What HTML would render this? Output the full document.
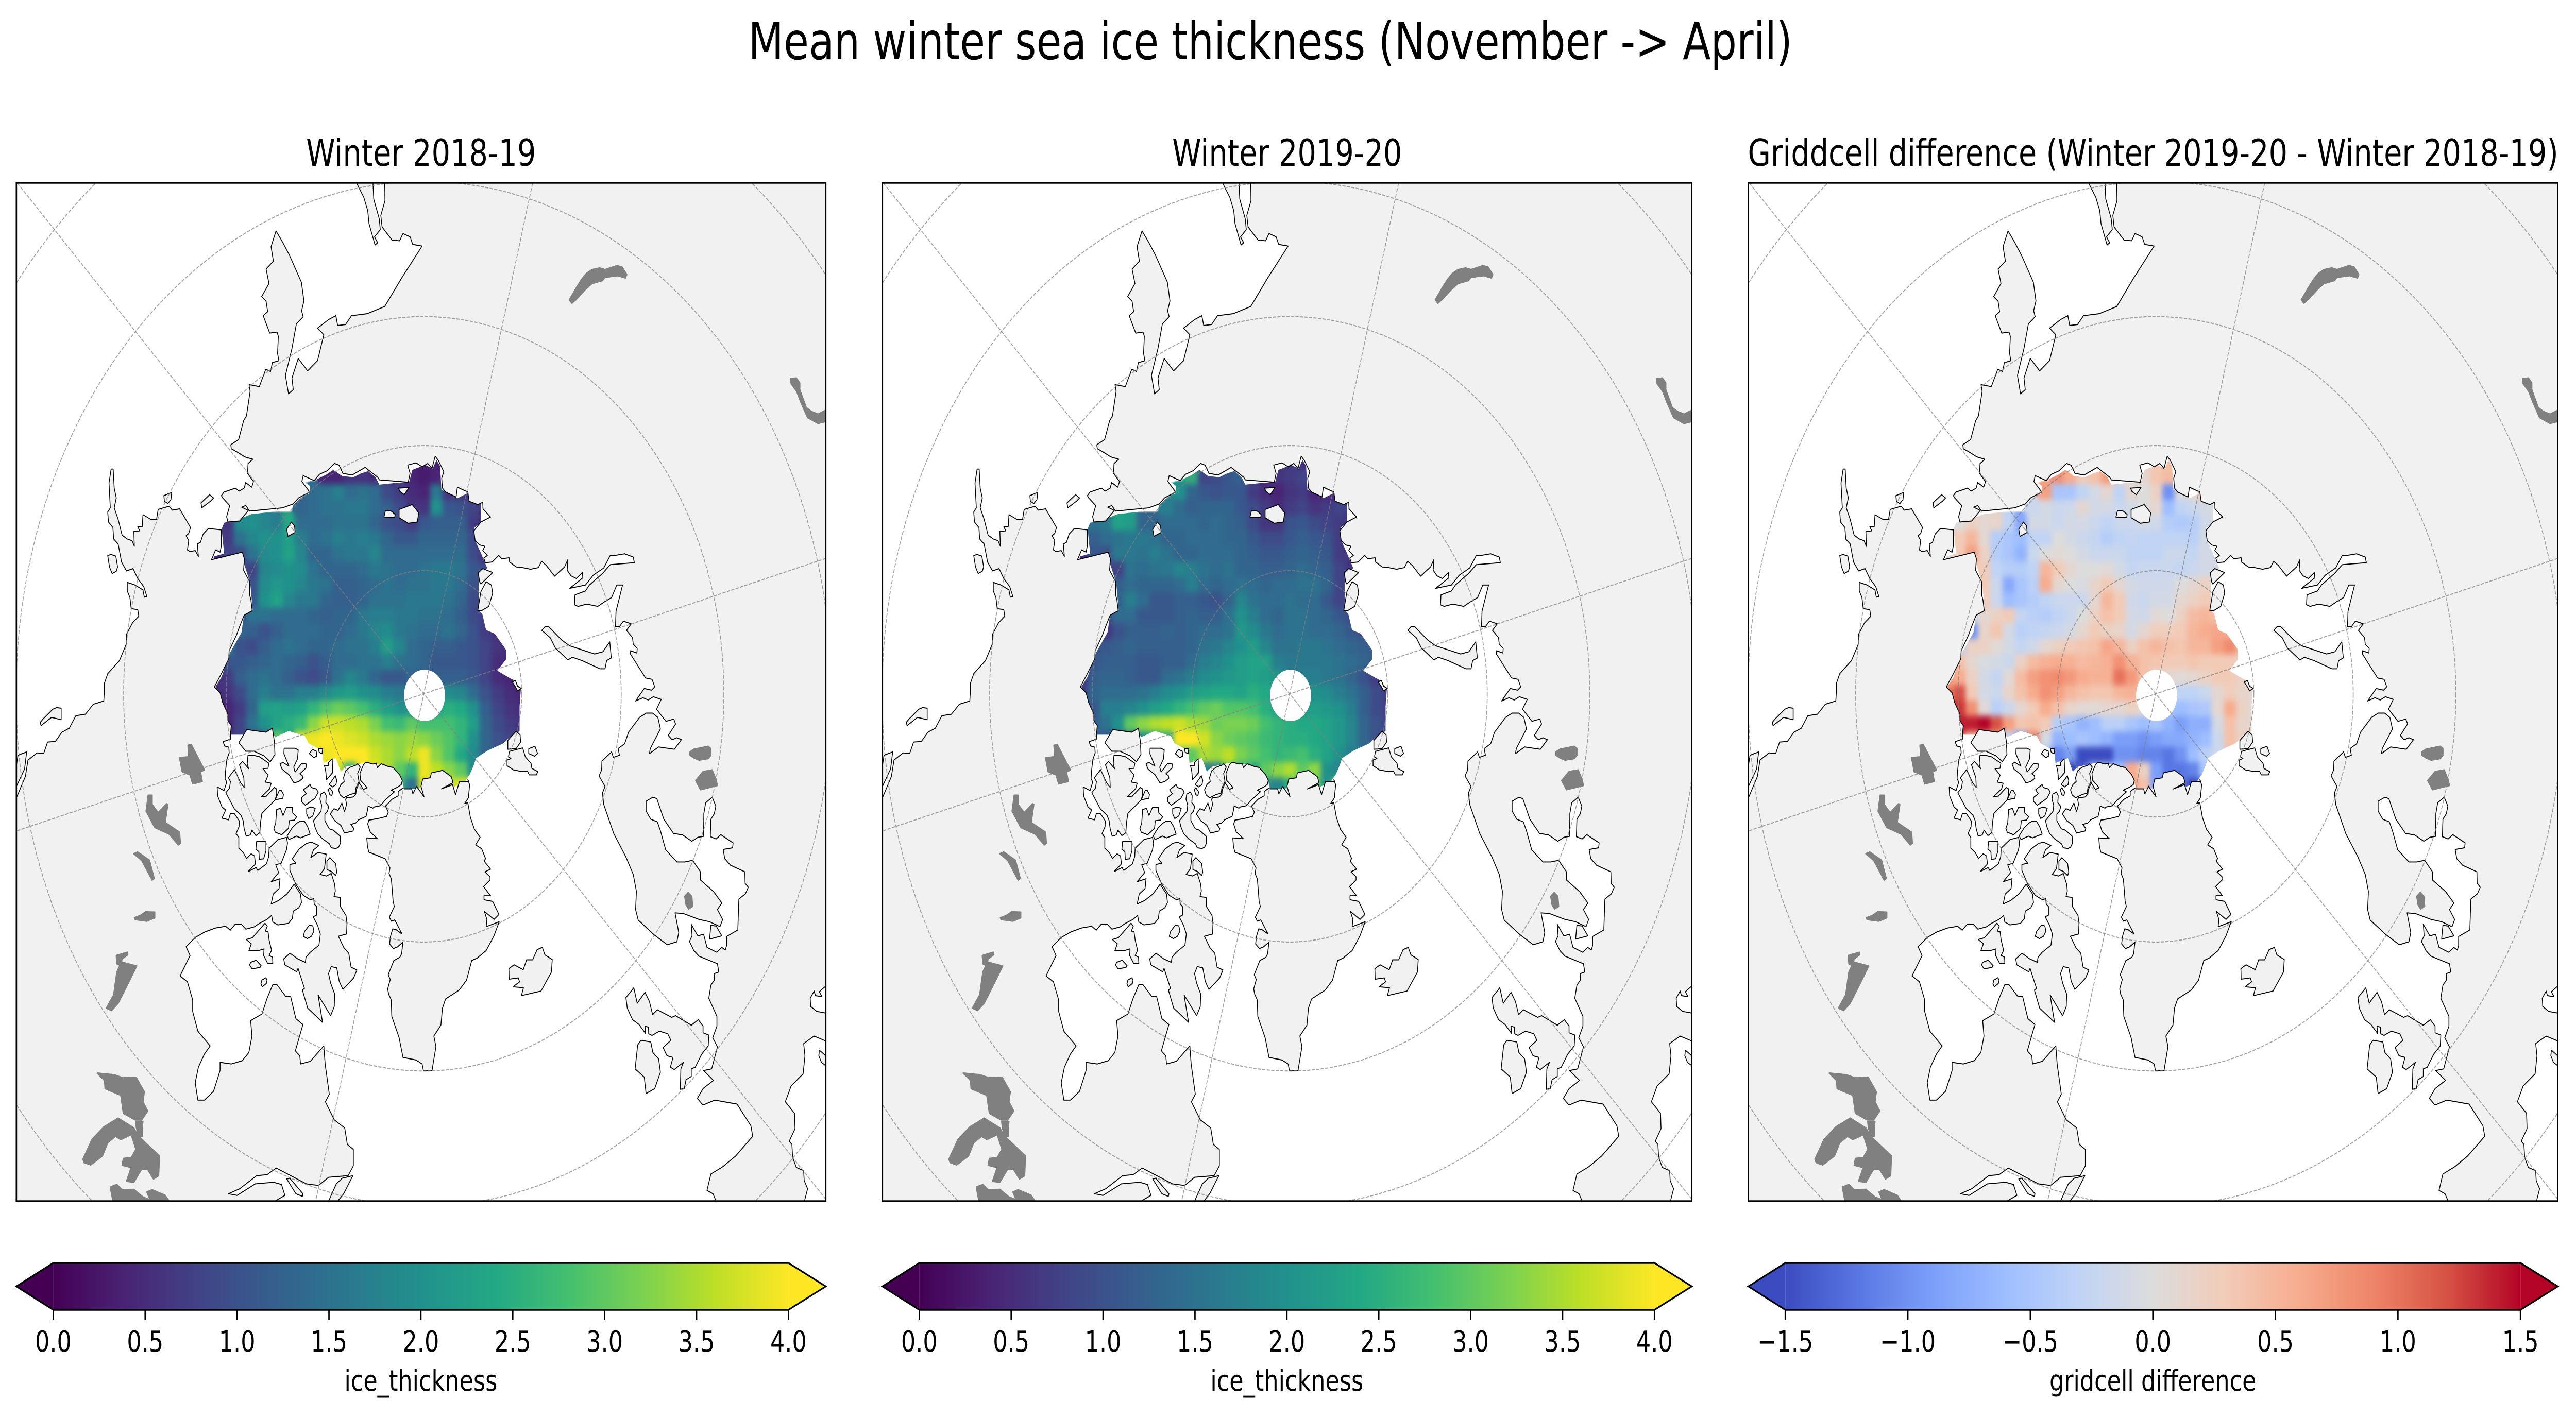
<!DOCTYPE html>
<html lang="en">
<head>
<meta charset="utf-8">
<title>Mean winter sea ice thickness</title>
<style>
html,body{margin:0;padding:0;background:#fff;width:100%;height:100%;overflow:hidden;}
svg{display:block;width:100vw;height:100vh;}
text{font-family:"DejaVu Sans","Liberation Sans",sans-serif;fill:#000;}
</style>
</head>
<body>
<svg id="figure" xmlns="http://www.w3.org/2000/svg" viewBox="0 0 6286 2753" preserveAspectRatio="none">
  <defs>
    <clipPath id="axes-clip"><rect x="40" y="355" width="1975" height="1977"/></clipPath>
    <clipPath id="ice-clip"><polygon id="ice-mask"/></clipPath>
    <filter id="soften" filterUnits="userSpaceOnUse" x="440" y="820" width="900" height="780" color-interpolation-filters="sRGB">
      <feGaussianBlur stdDeviation="6"/>
      <feComponentTransfer><feFuncA type="linear" slope="4"/></feComponentTransfer>
    </filter>
    <linearGradient id="viridis-gradient" x1="0" x2="1" y1="0" y2="0"></linearGradient>
    <linearGradient id="coolwarm-gradient" x1="0" x2="1" y1="0" y2="0"></linearGradient>
    <g id="basemap"></g>
  </defs>
  <text x="1826" y="115" font-size="100">Mean winter sea ice thickness (November -&gt; April)</text>
  <g id="panel-a">
    <text x="1027.5" y="322" font-size="72" text-anchor="middle">Winter 2018-19</text>
  </g>
  <g id="panel-b" transform="translate(2113.25,0)">
    <text x="1027.5" y="322" font-size="72" text-anchor="middle">Winter 2019-20</text>
  </g>
  <g id="panel-c" transform="translate(4226.5,0)">
    <text x="1027.5" y="322" font-size="72" text-anchor="middle">Griddcell difference (Winter 2019-20 - Winter 2018-19)</text>
  </g>
</svg>
<script>
const _ = null;

/* ---------- chart data ---------- */
const iceTicks = [0, 0.5, 1, 1.5, 2, 2.5, 3, 3.5, 4];
const diffTicks = [-1.5, -1, -0.5, 0, 0.5, 1, 1.5];
const iceDomain = [0, 4];
const diffDomain = [-1.5, 1.5];
const latitudeRings = [80, 70, 60, 50, 40];
const meridianAngles = [45, 105, 165];

const thickness201819 = [
[_,_,_,_,_,_,_,_,_,_,_,_,_,_,_,_,_,.3,.4],
[_,_,_,_,_,_,_,_,_,.4,.4,.6,.6,.5,.6,_,.4,.3,.4],
[_,_,_,_,_,_,_,_,1.4,1.5,1.7,1.4,1.5,1.4,.9,.7,.5,.4,1.6,.6,.6,.5,.5],
[_,_,_,_,_,_,_,1.3,1.4,1.5,1.5,1.6,1.6,1.4,1.2,.9,.6,.6,2,1.1,1,.8,.6],
[_,.6,1.9,2,1.8,1.7,2.4,1.4,1.4,1.4,1.5,1.5,1.5,1.3,1,.9,.7,1.1,1.2,1.2,1.2,.7,.5],
[_,.7,1.5,1.8,2,2,2.2,1.7,1.4,1.5,1.7,1.6,1.7,1.6,1.3,1.1,1.1,1.3,1.3,1.3,1.3,.9,.5],
[.4,.8,.9,1.5,1.9,2,2.3,1.8,1.3,1.3,1.5,1.6,1.6,1.8,1.4,1.4,1.4,1.4,1.4,1.4,1.4,.9,.5],
[_,_,.8,.8,1.8,1.9,2,1.9,1.5,1.3,1.3,1.3,1.4,1.6,1.5,1.4,1.4,1.5,1.6,1.6,1.5,1.1,.9],
[_,_,_,1,1.9,2.1,2,1.8,1.6,1.5,1.2,1.2,1.3,1.4,1.5,1.4,1.5,1.5,1.6,1.6,1.4,1,.8],
[_,_,_,1.1,2,2.3,1.8,1.6,1.6,1.3,1.2,1.2,1.3,1.5,1.5,1.5,1.6,1.6,1.6,1.5,1.3,.9,.7],
[_,_,1,1.5,1.5,1.4,1.4,1.4,1.3,1.2,1.3,1.3,1.6,1.7,1.7,1.6,1.6,1.5,1.5,1.4,1.2,.9,.7],
[_,_,1.3,1.2,1,1.2,1.4,1.4,1.4,1.3,1.3,1.4,1.6,1.8,1.9,1.6,1.5,1.4,1.4,1.5,1.3,1,.7,.5],
[_,1.6,1,.9,1.2,1.4,1.5,1.4,1.3,1.3,1.4,1.5,1.5,1.7,2.2,1.8,1.4,1.3,1.2,1.2,1.1,1,.8,.6,.5],
[_,1.1,1.1,1.2,1.3,1.4,1.3,1.2,1,1.2,1.4,1.4,1.5,1.5,1.7,1.5,1.4,1.3,1.1,1.1,1.1,1,.8,.5,.5],
[.5,.7,1.2,1.4,1.5,1.4,1.2,1,.9,1.1,1.5,1.8,1.6,1.3,1.1,1.1,1.3,1.2,1.2,1.2,1.2,1.1,.8,.5,.4,.4],
[.5,.6,.9,1.4,1.7,1.5,1.5,1.7,1.7,1.9,2.1,2.2,2,1.9,1.7,1.6,1.6,1.8,1.8,1.9,1.8,1.4,1,.7,.5,.4],
[.4,.4,.7,1.3,2.2,2.3,2.2,2.3,2.6,2.9,3.1,3,2.8,2.5,2.2,2,2,2.2,2.3,2.5,2.4,2,1.2,.8,.6,.5],
[_,.4,.8,1.5,2,2.3,2.5,2.7,3.3,3.7,3.7,3.6,3.5,3.2,2.8,2.7,3,2.8,2.8,2.8,2.6,2.2,1.3,.9,.7,.6],
[_,_,.8,.9,.9,3,2.5,3.8,3.9,4,3.9,3.8,3.7,3.5,3.4,3.3,3.4,3.3,3.1,2.9,2.6,2,1.3,1,.8],
[_,_,_,_,_,_,_,_,3.9,3.9,4,4,4,3.7,3.5,3.3,3.6,3.9,3.3,2.9,2.4,1.9,1.3],
[_,_,_,_,_,_,_,_,_,_,3.7,2.5,3.9,3.9,3.5,3,2.6,3.9,3.6,3.3,3,1.9],
[_,_,_,_,_,_,_,_,_,_,_,_,_,_,_,2.5,1.5,3.8,3.8,3.6,3.8,3.9]
];

const thickness201920 = [
[_,_,_,_,_,_,_,_,_,_,_,_,_,_,_,_,_,.7,.5],
[_,_,_,_,_,_,_,_,_,2.5,.8,.9,1.1,1.2,.9,_,.6,.7,.8],
[_,_,_,_,_,_,_,_,2,1.3,1.1,1,1.1,1.1,.7,.5,.4,.6,.7,.4,.4,.5,.5],
[_,_,_,_,_,_,_,1.7,1.4,1.2,1.3,1.3,1.3,1.1,.9,.7,.5,.7,.8,.6,.7,.8,.7],
[_,1.5,1.6,2.3,2.2,1.3,1.3,1.4,1.4,1.4,1.3,1.4,1.3,1.2,.9,.6,.6,1,1.1,.9,.8,.7,.6],
[_,1.2,1.4,1.5,1.6,1.6,1.5,1.3,1.3,1.4,1.4,1.4,1.3,1.3,1.1,.9,.9,1.1,1.2,1.1,1,.7,.6],
[.4,1.1,1,1.6,1.6,1.5,1.7,1.5,1.3,1.3,1.4,1.4,1.4,1.3,1.2,1.1,1.1,1.2,1.3,1.2,1.1,.7,.6],
[_,_,.8,.8,1.5,1.4,1.5,1.6,1.8,1.7,1.5,1.4,1.5,1.3,1.3,1.2,1.2,1.3,1.4,1.3,1.2,.8,.6],
[_,_,_,1.2,1.4,1.3,1.3,1.3,1.4,1.7,1.4,1.3,1.4,1.5,1.4,1.3,1.4,1.4,1.5,1.5,1.3,.8,.7],
[_,_,_,1.3,1.7,1.4,1.1,1.1,1.2,1.2,1.1,1,1.3,1.8,1.5,1.4,1.4,1.5,1.4,1.4,1.1,.8,.8],
[_,_,.9,1.4,1.4,1.1,1.1,1.1,1.2,1.3,1.2,1.2,1.5,2,1.7,1.4,1.3,1.5,1.5,1.4,1.3,1.1,.9],
[_,_,.6,1,1.2,1.2,1.2,1.3,1.2,1.3,1.4,1.4,1.5,2.1,1.9,1.6,1.4,1.5,1.5,1.4,1.4,1.3,1.1,1],
[_,1,1.1,1.2,1.3,1.2,1.2,1.2,1.2,1.3,1.5,1.6,1.8,2,2.2,1.8,1.5,1.5,1.6,1.6,1.5,1.4,1.3,1.2,1],
[_,1.1,1.2,1.2,1.2,1.1,1.1,1.2,1.2,1.4,1.7,1.8,2,2.2,2.3,2.3,1.7,1.6,1.6,1.6,1.6,1.5,1.4,1.3,1.1],
[.6,1.2,1.3,1.3,1.2,1.1,1.1,1.4,1.5,1.7,1.9,2,2.1,2.2,2.3,2.2,2.1,1.7,1.7,1.7,1.6,1.5,1.3,1,.7,.6],
[.7,1.3,1.4,1.4,1.4,1.5,1.7,1.9,2,2.2,2.3,2.4,2.4,2.3,2.5,2.4,2.2,1.9,2,2,1.9,1.7,1.5,1.2,.9,.7],
[.9,1.1,1.7,1.7,1.8,2,2.2,2.4,2.6,2.8,3,3.1,2.9,2.9,2.8,2.5,2.3,2.2,2.2,2.2,2.1,2,1.7,1.2,.9,.7],
[_,1.2,1.5,2,3,3.3,3.5,3.6,3.7,3.5,3.4,3.1,3.2,3.2,3.1,2.8,2.6,2.5,2.4,2.4,2.3,2.1,1.8,1.3,1,.8],
[_,_,1.1,1.3,1.5,2,2.3,2.5,4,4,3.7,3.3,3.1,3,2.9,2.7,2.6,2.5,2.5,2.4,2.3,2.1,1.8,1.3,1],
[_,_,_,_,_,_,_,_,3,3,3.5,3.4,3.6,3.2,3,2.8,2.6,2.7,2.8,2.5,2.3,2,1.7],
[_,_,_,_,_,_,_,_,_,_,1.8,1.7,3,2.6,2.4,3,3.3,3.5,3,3.3,2,1.8],
[_,_,_,_,_,_,_,_,_,_,_,_,_,_,_,2,1.8,2.5,3,3,2,3.5]
];

const griddifference = [
[_,_,_,_,_,_,_,_,_,_,_,_,_,_,_,_,_,.3,.4],
[_,_,_,_,_,_,_,_,_,.8,.6,.3,.4,.7,.3,_,.1,.35,.45],
[_,_,_,_,_,_,_,_,.7,-.5,-.5,-.3,-.1,.1,-.3,.1,0,.2,-1,0,.15,.35,.3],
[_,_,_,_,_,_,_,-.2,-.1,-.2,-.15,.1,-.1,-.1,-.2,-.1,0,.1,-.6,-.3,-.2,-.1,0],
[_,0,.2,.1,.15,-.3,-.8,-.1,-.1,-.2,-.1,-.1,-.2,-.3,-.2,-.2,-.1,-.15,-.4,-.45,-.4,-.15,0],
[_,.3,.5,.1,-.4,-.5,-.6,-.3,-.3,0,-.1,-.2,-.25,-.4,-.3,-.25,-.3,-.3,-.3,-.3,-.35,-.1,0],
[0,.3,.7,.2,-.4,-.5,-.7,-.2,0,.05,0,-.1,-.2,-.2,-.2,-.3,-.3,-.3,-.2,-.2,-.25,-.1,-.1],
[_,_,.3,.3,-.3,-.4,-.4,-.3,.5,.3,.1,0,0,.05,-.1,-.25,-.2,-.2,-.2,-.25,-.2,-.1,-.1],
[_,_,_,.3,-.2,-.8,-.5,-.35,.6,.1,0,-.05,.15,.3,.1,-.1,-.15,-.15,-.15,0,.1,.2,.1],
[_,_,_,.3,-.2,-.6,-.5,-.4,-.3,-.2,-.2,-.2,.1,.5,.3,-.15,-.2,-.1,-.1,.1,.2,.3,.2],
[_,_,-.1,.1,.2,.3,-.25,-.35,-.4,-.3,-.2,0,.2,.4,.3,-.1,-.15,.05,0,.2,.45,.5,.4],
[_,_,-1,.15,.35,-.1,-.35,-.3,-.25,-.2,-.1,.1,.3,.2,.15,-.1,.1,.25,.25,.3,.5,.6,.65,.6],
[_,-.4,.2,.2,.05,-.1,-.25,-.15,.1,.2,.3,.35,.4,.65,.5,.2,.4,.5,.4,.35,.5,.5,.7,.85,.5],
[_,.4,.1,-.05,-.1,-.2,.2,.45,.55,.6,.55,.45,.5,.55,.8,.55,.4,.35,.3,.3,.35,.3,.3,.3,.2],
[.7,.6,.2,-.1,-.25,.05,.45,.7,.8,.85,.75,.6,.55,.55,1,.75,.4,.1,.1,.05,.1,.2,.3,.3,.2,.1],
[.9,1.2,.3,-.1,-.2,.15,.4,.6,.8,.7,.5,.4,.35,.35,.5,.55,.3,0,-.1,-.3,-.3,-.2,.1,.25,.15,.1],
[1.2,1.3,.8,.05,-.35,-.2,.1,.3,.6,.4,.15,.05,.05,.1,.1,.2,.05,-.2,-.5,-.6,-.5,-.45,.1,.6,.2,.05],
[_,1.4,1.4,1.5,1.2,.7,.35,.4,.3,-.4,-.5,-.7,-.6,-.35,-.35,-.5,-.6,-.5,-.7,-.9,-.75,-.75,-.1,.4,.15,.1],
[_,_,.5,.5,.6,-.3,-.9,.9,-.1,-.7,-.6,-.5,-.6,-.7,-.9,-.9,-1,-.9,-.8,-.8,-.7,-.6,-.2,.4,.2],
[_,_,_,_,_,_,_,_,-.5,-1.1,-.9,-1.5,-1.5,-1.5,-1,-1,-1.1,-1.1,-1.2,-1,-.6,-.35,-.2],
[_,_,_,_,_,_,_,_,_,_,-1.5,-1.4,-.6,-.5,-.6,.6,.2,-.9,-1.2,-1.2,-1.1,-.5],
[_,_,_,_,_,_,_,_,_,_,_,_,_,_,_,.7,.4,-.9,-1,-1.2,-1.5,-1.3]
];

/* ---------- colour maps ---------- */
const viridisStops = ['#440154','#482475','#414487','#355f8d','#2a788e','#21918c','#22a884','#44bf70','#7ad151','#bddf26','#fde725'];
const coolwarmStops = ['#3b4cc0','#5977e3','#7b9ff9','#9ebeff','#c0d4f5','#dddcdc','#f2cbb7','#f7ac8e','#ee8468','#d65244','#b40426'];

/* ---------- map projection ---------- */
const SVGNS = 'http://www.w3.org/2000/svg';
const poleX = 1034;
const poleY = 1347;
const polarScale = 2733;
const gridX0 = 510;
const gridY0 = 880;
const cellSize = 30;
const axLeft = 40, axRight = 2015, axTop = 355, axBottom = 2332;
function xCell(col) { return gridX0 + col * cellSize; }
function yCell(row) { return gridY0 + row * cellSize; }
function ringRadius(lat) { return polarScale * Math.tan((90 - lat) / 2 * Math.PI / 180); }
function inAxes(x, y) { return x >= axLeft && x <= axRight && y >= axTop && y <= axBottom; }

/* visible part of a latitude ring, as path data limited to the axes */
function ringPath(radius) {
  let d = '';
  let pen = false;
  for (let t = 0; t <= 1440; t++) {
    const a = t / 4 * Math.PI / 180;
    const x = poleX + radius * Math.cos(a);
    const y = poleY + radius * Math.sin(a);
    if (inAxes(x, y)) {
      d += (pen ? 'L' : 'M') + x.toFixed(1) + ' ' + y.toFixed(1);
      pen = true;
    } else {
      pen = false;
    }
  }
  return d;
}
/* distance from the pole to the axes edge along a direction */
function reach(dx, dy) {
  let s = Infinity;
  if (dx > 0) s = Math.min(s, (axRight - poleX) / dx);
  if (dx < 0) s = Math.min(s, (axLeft - poleX) / dx);
  if (dy > 0) s = Math.min(s, (axBottom - poleY) / dy);
  if (dy < 0) s = Math.min(s, (axTop - poleY) / dy);
  return s;
}

/* ---------- trace frames for basemap outlines ---------- */
const frames = {
  A: [30, 345, 1000 / 1568, 1000 / 1568],
  B: [1030, 345, 1000 / 1568, 1000 / 1568],
  C: [30, 1345, 1000 / 1568, 1000 / 1568],
  D: [1030, 1345, 1000 / 1568, 1000 / 1568],
  E: [500, 1430, 1 / 3, 1 / 3],
  F: [450, 850, 950 / 1568, 750 / 1568]
};
function outline(segs) {
  const out = [];
  segs.forEach(function (seg) {
    const f = frames[seg[0]];
    seg[1].trim().split(/\s+/).forEach(function (p) {
      const xy = p.split(',');
      const px = Math.min(axRight, Math.max(axLeft, f[0] + xy[0] * f[2]));
      const py = Math.min(axBottom, Math.max(axTop, f[1] + xy[1] * f[3]));
      out.push(px.toFixed(1) + ',' + py.toFixed(1));
    });
  });
  return out.join(' ');
}

const iceOutline = [['F','118,500 118,482 160,470 150,370 160,345 240,322 270,310 355,300 430,297 440,270 480,235 505,225 505,195 485,180 530,170 570,150 600,130 635,155 680,160 710,145 740,135 770,160 785,190 860,182 905,180 918,130 970,110 1000,125 1015,90 1030,115 1035,210 1100,245 1140,225 1195,270 1195,345 1168,365 1175,425 1195,470 1220,530 1185,540 1185,700 1200,715 1215,780 1250,795 1295,860 1295,900 1260,945 1310,975 1330,985 1355,1020 1350,1090 1350,1190 1305,1220 1285,1240 1220,1270 1175,1300 1165,1330 1150,1365 1130,1395 1090,1415 1040,1420 885,1425 875,1385 845,1350 800,1325 720,1320 650,1335 630,1355 610,1300 560,1320 555,1270 500,1240 485,1210 420,1190 365,1215 350,1185 330,1195 250,1185 240,1205 185,1205 185,1170 160,1110 125,1010 150,970 170,910 185,870 230,790 240,720 275,700 265,590 240,510 235,470 215,470 160,490']];

const landShapes = [
 /* north america mainland */
 [['A','352,1568 352,1540 365,1510 410,1470 436,1420 437,1390 460,1355 484,1335 480,1315 455,1312 450,1278 440,1258 440,1232 470,1240 500,1255 505,1277 515,1275 503,1245 480,1220 462,1190 437,1197 418,1170 405,1115 388,1100 385,1065 368,1048 365,1018 375,1005 370,930 378,887 386,887 390,945 398,975 390,1005 405,1040 420,1088 440,1100 458,1105 467,1122 465,1077 488,1075 480,1063 497,1063 500,1026 530,1040 552,1040 558,1010 600,1000 612,1012 640,1008 660,1035 682,1065 675,1083 665,1090 675,1105 670,1133 680,1138 700,1135 712,1153 708,1115 720,1110 730,1085 750,1068 800,1072 800,1120 795,1140 778,1133 762,1163 880,1140 888,1160 885,1195 908,1230 908,1270 913,1285 918,1318 887,1332 868,1370 858,1392 830,1440 828,1465 800,1510 773,1550 795,1568'],
  ['C','805,30 825,65 825,85 838,100 835,125'],
  ['E','187,15 133,30 145,55 175,62 178,95 160,135 150,210 148,245 160,265 140,315 90,293 93,345 125,410 152,428 125,475 173,485 187,447 217,450 252,492 250,525 228,565 248,587 248,650 280,675 305,710 338,683 363,695 370,742 316,787 375,763 387,780 450,742 467,700 470,650 535,600 597,587 605,620 597,660 558,738 518,747 540,792 485,845 550,828 543,885 500,917 485,975 540,955 600,917 653,860 700,917 707,967 688,997 647,1017 640,1060 612,1088 535,1097 497,1080 488,1042 455,1065 395,1090 363,1108 300,1122 265,1092 220,1095 185,1128 152,1105 78,1115 0,1138'],
  ['C','700,745 665,773 680,800 642,862 670,880 690,935 690,970 710,1030 757,1075 735,1100 712,1140 700,1187 710,1240 735,1240 770,1213 795,1150 795,1125 838,1130 880,1120 905,1095 917,1045 912,998 955,978 975,930 997,888 1012,888 1047,925 1065,925 1085,992 1112,1010 1083,1090 1100,1105 1103,1130 1140,1122 1192,1075 1197,1130 1213,1222 1198,1245 1232,1300 1272,1325 1282,1375 1305,1390 1305,1440 1285,1470 1210,1475 1172,1500 1125,1495 1010,1447 975,1467 935,1470 870,1510 827,1525 860,1530 930,1495 1000,1490 1030,1497 1043,1530 1005,1548 15,1548 15,320 50,255 60,205 95,183 120,185 135,150 165,148 190,120 218,108 243,70 280,65 310,35 350,25']],
 /* eurasia */
 [['A','1425,15 1426,70 1410,115 1415,150 1453,190 1482,192 1495,170 1522,180 1532,203 1568,208 1490,305 1425,392 1358,414 1298,420 1275,447 1245,450 1238,420 1210,432 1168,458 1192,478 1168,557 1130,588 1094,550 1070,610 1075,645 1057,658 1045,602 1070,520 1087,445 1113,423 1107,405 1116,375 1106,318 1060,235 1030,190 1009,162 990,210 999,254 971,278 982,322 954,362 971,376 977,408 960,420 985,473 1013,470 1018,483 1015,535 1020,557 995,563 988,590 970,583 945,636 906,630 910,650 896,725 885,740 866,797 836,813 838,825 860,835 890,850 920,857 902,870 900,900 923,925 916,942 893,928 887,945 868,954 854,945 810,957 800,968 805,975 832,998 820,1032 825,1048 870,1045 903,1013 878,1003 893,998 908,1015 1035,1005 1075,993 1095,975 1138,957 1108,925 1113,907 1155,922 1175,903 1205,892 1233,870 1250,875 1265,900 1300,905 1350,882 1398,912 1405,920 1515,927 1522,900 1513,875 1545,868'],
  ['B','0,880 22,870 38,885 50,848 62,860 83,895 75,915 78,945 90,957 130,972 135,942 175,957 180,985 213,995 232,988 233,1008 262,1033 225,1048 198,1075 203,1105 220,1118 240,1122 232,1135 250,1150 236,1158 242,1172 268,1170 293,1150 305,1160 333,1157 335,1170 360,1185 385,1187 415,1192 445,1187 457,1168 475,1180 507,1213 545,1185 558,1162 555,1195 570,1212 590,1220 613,1202 615,1218 565,1250 625,1240 655,1210 695,1188 720,1150 737,1150 775,1145 808,1155 812,1172 720,1178 690,1205 640,1240 625,1258 585,1270 583,1300 597,1305 630,1298 672,1305 700,1290 725,1278 745,1240 767,1240 742,1320 740,1367 755,1367 770,1350 800,1358 782,1378 805,1400 808,1420 823,1433 822,1447 798,1440 797,1450 855,1523 880,1527 890,1550 878,1560 850,1555'],
  ['D','817,25 845,15 865,22 885,12 915,20 897,50 933,87 963,80 970,95 942,130 957,143 975,137 992,143 965,172 905,165 870,185 873,170 912,110 902,75 882,62 857,62 832,75 790,120 775,155 750,170 755,190 732,197 725,180 688,208 687,235 677,253 700,285 690,305 695,340 733,428 780,500 808,553 820,605 817,660 827,692 888,737 938,767 975,758 982,730 968,670 1000,672 1060,690 1100,697 1140,712 1150,690 1130,660 1147,640 1115,605 1065,570 1065,545 1035,510 1005,515 975,515 932,478 912,420 900,393 875,385 857,360 857,330 883,318 898,322 925,385 962,428 997,433 1032,452 1055,440 1077,437 1078,368 1085,335 1110,318 1124,345 1118,368 1105,385 1103,438 1125,445 1143,432 1190,457 1188,472 1152,477 1158,505 1180,525 1235,545 1236,580 1248,592 1237,612 1212,628 1208,722 1165,742 1165,770 1160,783 1147,775 1127,790 1090,775 1077,735 1055,740 1030,705 1033,740 1023,757 1040,785 1060,802 1130,825 1135,850 1118,855 1118,875 1105,890 1097,930 1128,985 1128,1015 1112,1050 1130,1078 1108,1145 1077,1150 1115,1180 1075,1205 1053,1235 1075,1255 1120,1240 1205,1252 1258,1318 1265,1350 1200,1410 1150,1443 1105,1465 1090,1515 1113,1525 1125,1548 1548,1548'],
  ['B','1548,15']],
 /* peninsula at the top edge */
 [['A','1317,15 1345,60 1360,100 1365,140 1388,205 1398,198 1386,180 1408,158 1404,125 1383,65 1380,15']],
 /* greenland */
 [['E','1450,300 1415,320 1415,345 1370,365 1322,405 1343,440 1330,465 1270,477 1200,487 1192,510 1210,555 1262,595 1185,590 1190,640 1200,673 1320,712 1355,765 1348,797 1365,830 1378,960 1387,990 1350,1052 1365,1075 1390,1068 1443,1150 1400,1125 1375,1120 1358,1165 1352,1208 1380,1235 1410,1225 1450,1197 1440,1265 1428,1285 1383,1305 1342,1387 1357,1415 1338,1470 1345,1500'],
  ['C','1450,935 1452,985 1480,1050 1495,1110 1545,1118'],
  ['D','0,1130 5,1150 38,1150 53,1077 45,1045 72,1012 78,960 90,932 142,905 170,875 190,815 210,808 245,785 275,740 295,697 245,712 248,690 238,665 275,690 294,675 270,635 237,630 237,618 262,618 235,590 260,570 260,560 240,545 262,537 237,512 243,505 228,475 205,463 222,440 200,415 185,380 175,335 163,337 177,320 182,280 175,265'],
  ['F','1145,1395 1108,1395 1092,1448 1080,1408 1035,1425 1082,1400 1075,1375 1040,1350 995,1360 990,1380 960,1385 953,1415 965,1457 935,1415 920,1445 915,1425 885,1425']],
 /* baffin */
 [['E','835,635 795,660 775,705 828,675 888,685 875,770 843,803 890,812 925,797 950,860 955,900 945,932 990,937 992,990 1033,1042 1040,1090 1037,1150 977,1163 1018,1230 1053,1262 1070,1343 1113,1360 1088,1407 1010,1473 983,1425 965,1347 925,1340 905,1380 920,1435 950,1500'],
  ['C','1232,955 1218,983 1170,920 1187,1003 1130,960 1110,905 1118,900'],
  ['E','682,1350 672,1370 585,1330 577,1295 623,1262 680,1295 735,1315 740,1285 770,1257 835,1215 845,1150 825,1100 793,1050 817,1040 817,990 800,975 797,943 775,952 720,925 665,860 622,780 622,745 665,738 640,712 690,655 745,622 780,615']],
 /* arctic archipelago */
 [['C','867,152 897,112 970,120 995,108 1003,150 1005,188 987,210 963,192 925,178 893,178']],
 [['E','315,110 310,160 320,187 275,145 253,165 285,240 288,297 262,270 217,193 172,240 187,262 180,300 153,327 215,420 265,460 280,490 287,535 302,580 332,573 345,545 373,577 402,560 407,500 417,448 515,368 525,335 525,305 508,297 450,347 415,350 473,305 485,272 442,265 463,225 425,187 462,185 468,155 400,118 360,110']],
 [['E','515,368 545,313 560,315 575,337 570,360']],
 [['E','580,68 660,68 683,78 678,130 650,178 660,207 708,157 742,160 740,183 695,217 713,227 717,243 688,262 652,270 615,222 565,190 550,160 570,150 615,172 578,100']],
 [['E','765,100 787,75 815,85 820,113 797,123']],
 [['E','830,70 862,72 858,100 837,92']],
 [['E','875,168 905,168 905,150 932,130 935,210 890,252 885,205']],
 [['E','910,280 955,228 965,255 960,280 935,293']],
 [['E','903,310 915,298 935,323 930,342 915,340']],
 [['E','1020,262 1015,240 1030,200 1060,180 1110,165 1118,158 1137,178 1118,215 1128,262 1105,300 1100,330 1065,337 1015,357 990,340 978,310 995,280']],
 [['E','1140,255 1135,215 1160,165 1175,152 1195,152 1230,160 1255,155 1262,180 1290,158 1345,175 1378,180 1425,222 1445,255 1438,280 1410,295 1365,312 1387,322 1320,370 1285,403 1240,410 1230,417 1195,405 1190,430 1180,465 1125,485 1105,503 1068,512 1090,535 1085,550 1022,562 995,517 950,490 918,450 945,420 975,430 1003,387 1022,438 1037,395 1030,365 1037,357 1085,352 1105,335 1108,310 1130,270 1160,308 1188,298']],
 [['E','525,425 553,418 572,460 597,413 640,413 643,445 672,467 655,487 618,490 612,535 562,572 515,557 505,535 518,505']],
 [['E','602,578 640,530 675,503 700,492 730,495 752,525 770,568 700,590 670,580 615,600']],
 [['E','745,420 777,410 808,418 790,462 760,478 745,450']],
 [['E','722,310 770,280 780,297 815,305 830,323 805,360 735,400 707,378 707,355 742,333']],
 [['E','795,490 850,435 855,400 842,365 848,335 875,323 888,345 885,385 907,407 897,435 878,452 878,490 910,537 940,545 990,580 993,620 978,645 960,652 925,648 912,625 860,595 825,565 805,525']],
 [['E','378,612 447,612 447,665 430,712 398,715 395,670 373,657']],
 [['E','915,705 957,740 965,790 957,810 925,785 893,775 893,725']],
 [['E','720,1163 730,1135 765,1098 790,1103 798,1133 780,1163 750,1177']],
 [['E','303,1182 347,1172 440,1087 457,1105 442,1133 462,1135 470,1185 488,1245 470,1275 495,1285 497,1320 460,1322 430,1275 433,1237 385,1248 322,1247 340,1207']],
 [['E','327,1330 335,1315 375,1303 412,1335 403,1345 345,1353']],
 [['E','410,1440 417,1418 447,1405 455,1420 450,1438 420,1458']],
 /* pacific and bering islands */
 [['A','580,968 610,958 607,980 595,992 582,985']],
 [['A','722,990 755,965 770,975 758,985 725,1005']],
 [['A','365,1150 378,1147 396,1152 403,1185 398,1198 382,1205 372,1185']],
 [['C','107,90 120,78 155,50 170,45 187,47 187,82 150,75 110,100']],
 [['C','15,222 22,190 55,180 47,232 15,285']],
 /* siberian arctic islands */
 [['A','1050,1070 1068,1048 1080,1060 1082,1080 1055,1092']],
 [['A','1478,945 1518,943 1500,965 1483,955']],
 [['A','1422,1033 1428,1013 1450,1015 1465,1025 1463,1035']],
 [['A','1480,1010 1530,995 1555,1020 1550,1048 1515,1052 1480,1035']],
 [['B','215,1203 232,1190 270,1202 225,1237 220,1230']],
 [['B','213,1318 225,1260 245,1230 265,1240 270,1265 255,1305 230,1317']],
 [['B','458,1378 470,1367 485,1367 535,1408 565,1425 660,1450 692,1443 718,1413 724,1462 706,1470 700,1495 680,1495 612,1470 575,1460 558,1468 510,1432 490,1400']],
 [['B','345,1535 357,1530 365,1548 380,1555 365,1562 357,1550']],
 /* svalbard */
 [['D','335,178 385,168 395,195 417,215 420,230 443,240 437,250 410,250 403,238 385,240 350,235 325,222 325,205 340,200 330,195']],
 [['D','328,145 345,130 360,117 375,128 377,150 360,170 328,172']],
 [['D','408,170 432,163 442,185 430,193 408,185']],
 /* iceland, ireland, britain */
 [['D','332,840 352,828 387,843 400,813 423,813 440,782 460,775 470,798 498,812 495,850 455,908 380,922 388,898 348,895 373,880 368,868 333,872']],
 [['D','780,928 810,898 823,945 853,912 870,940 882,980 900,965 955,988 970,983 1030,1012 1057,995 1075,1015 1075,1035 1097,1042 1095,1075 1070,1100 1045,1140 1030,1145 1030,1168 1010,1178 1003,1205 988,1207 990,1145 1000,1125 965,1147 950,1140 960,1110 937,1105 922,1080 952,1058 940,1038 908,1030 880,1043 867,1038 866,1018 853,1015 855,1037 830,1010 805,995 785,960']],
 [['D','825,1072 838,1058 875,1063 883,1095 905,1115 912,1155 890,1205 857,1220 850,1170 815,1145']],
 [['D','1105,708 1125,710 1147,740 1100,750']],
 /* newfoundland area */
 [['C','1050,1480 1062,1478 1112,1525 1110,1533 1085,1525']],
 [['C','1210,1548 1240,1495 1262,1478 1303,1470 1268,1525 1245,1548']]
];

const seaShapes = [
 [['D','1548,1060 1500,1045 1460,1068 1465,1105 1458,1160 1412,1197 1390,1245 1425,1280 1427,1327 1405,1365 1415,1375 1418,1415 1432,1445 1460,1455 1462,1485 1475,1510 1463,1548 1548,1548']],
 [['D','1548,893 1520,910 1530,925 1505,922 1500,908 1485,930 1487,955 1510,970 1548,975']]
];

const seaIslandShapes = [
 [['D','1520,1088 1548,1105 1548,1135 1528,1125 1518,1105']]
];

const lakeShapes = [
 [['B','563,372 590,335 610,310 618,302 628,292 650,280 680,275 700,280 745,268 765,272 783,295 778,305 748,298 700,303 690,313 650,322 625,340 590,370 573,382']],
 [['B','1410,612 1432,610 1445,625 1445,645 1470,700 1490,712 1515,720 1545,708 1545,742 1515,748 1475,730 1450,685 1433,650 1412,627']],
 [['D','1025,180 1040,172 1095,163 1105,170 1105,190 1095,200 1060,205 1040,198 1025,190']],
 [['D','1047,267 1075,240 1110,235 1125,265 1130,282 1065,295']],
 [['D','1005,620 1018,608 1032,620 1035,650 1020,658 1010,645']],
 [['C','640,198 675,195 672,160 685,158 735,235 720,240 727,270 690,277 680,250 650,240']],
 [['C','520,312 535,312 535,340 558,365 590,338 595,340 585,395 640,425 643,458 635,463 600,430 545,410 512,360']],
 [['C','465,490 480,485 525,510 543,565 535,570 495,510']],
 [['C','467,685 490,678 510,667 545,668 545,685 515,695 470,690']],
 [['C','360,960 388,920 400,850 412,830 400,825 398,800 440,790 442,797 420,810 418,820 476,832 440,890 405,945 380,967']],
 [['C','325,1158 390,1163 415,1170 475,1172 505,1215 500,1245 518,1273 495,1300 470,1300 425,1280 415,1225 355,1205 353,1180']],
 [['C','270,1420 305,1360 350,1322 405,1295 465,1325 483,1350 563,1410 560,1470 540,1480 517,1450 495,1450 465,1490 437,1487 455,1445 420,1438 425,1418 455,1415 473,1390 455,1345 415,1360 395,1350 365,1370 345,1410 300,1437 275,1430']],
 [['C','472,1305 500,1305 497,1320 497,1350 483,1350 475,1325']],
 [['C','375,1505 400,1497 420,1513 465,1512 500,1535 540,1548 385,1548']],
 [['C','515,1520 535,1513 585,1530 600,1548 530,1548']]
];

/* ---------- helpers ---------- */
function make(tag) { return document.createElementNS(SVGNS, tag); }
function hex(c) { return [parseInt(c.slice(1, 3), 16), parseInt(c.slice(3, 5), 16), parseInt(c.slice(5, 7), 16)]; }
function colourAt(stops, t) {
  const u = Math.max(0, Math.min(1, t)) * (stops.length - 1);
  const i = Math.min(stops.length - 2, Math.floor(u));
  const a = hex(stops[i]), b = hex(stops[i + 1]), k = u - i;
  return 'rgb(' + [0, 1, 2].map(function (n) { return Math.round(a[n] + (b[n] - a[n]) * k); }).join(',') + ')';
}
function fillGradient(id, stops) {
  const g = document.getElementById(id);
  stops.forEach(function (c, i) {
    const s = make('stop');
    s.setAttribute('offset', i / (stops.length - 1));
    s.setAttribute('stop-color', c);
    g.appendChild(s);
  });
}
fillGradient('viridis-gradient', viridisStops);
fillGradient('coolwarm-gradient', coolwarmStops);
document.getElementById('ice-mask').setAttribute('points', outline(iceOutline));

/* ---------- basemap ---------- */
const basemap = document.getElementById('basemap');
function addShapes(list, fill, stroke, width, label) {
  list.forEach(function (segs) {
    const p = make('polygon');
    p.setAttribute('points', outline(segs));
    p.setAttribute('fill', fill);
    p.setAttribute('stroke', stroke);
    p.setAttribute('stroke-width', width);
    p.setAttribute('stroke-linejoin', 'round');
    
    
    basemap.appendChild(p);
  });
}
addShapes(landShapes, '#f1f1f1', '#000', 1.9, 'land-polygon');
addShapes(seaShapes, '#fff', '#000', 1.9, 'inland-sea');
addShapes(seaIslandShapes, '#f1f1f1', '#000', 1.9, 'land-polygon');
addShapes(lakeShapes, '#808080', '#808080', 3, 'lake');

/* ---------- panels ---------- */
function drawPanel(panelId, grid, domain, stops) {
  const panel = document.getElementById(panelId);

  const axes = make('g');
  axes.setAttribute('clip-path', 'url(#axes-clip)');
  
  
  panel.appendChild(axes);

  const iceClip = make('g');
  iceClip.setAttribute('clip-path', 'url(#ice-clip)');
  
  
  axes.appendChild(iceClip);

  const cells = make('g');
  cells.setAttribute('filter', 'url(#soften)');
  cells.setAttribute('shape-rendering', 'crispEdges');
  iceClip.appendChild(cells);

  grid.forEach(function (row, r) {
    row.forEach(function (value, c) {
      if (value === null || value === undefined) return;
      const cell = make('rect');
      cell.setAttribute('x', xCell(c));
      cell.setAttribute('y', yCell(r));
      cell.setAttribute('width', cellSize + 0.5);
      cell.setAttribute('height', cellSize + 0.5);
      cell.setAttribute('fill', colourAt(stops, (value - domain[0]) / (domain[1] - domain[0])));
      
      
      cells.appendChild(cell);
    });
  });

  const hole = make('circle');
  hole.setAttribute('cx', 1036);
  hole.setAttribute('cy', 1350);
  hole.setAttribute('r', 50);
  hole.setAttribute('fill', '#fff');
  
  
  iceClip.appendChild(hole);

  const land = make('use');
  land.setAttribute('href', '#basemap');
  
  
  axes.appendChild(land);

  const grat = make('g');
  grat.setAttribute('fill', 'none');
  grat.setAttribute('stroke', '#808080');
  grat.setAttribute('stroke-opacity', '0.72');
  grat.setAttribute('stroke-width', '2.1');
  grat.setAttribute('stroke-dasharray', '7.7 3.3');
  
  
  axes.appendChild(grat);

  latitudeRings.forEach(function (lat) {
    const ring = make('path');
    ring.setAttribute('d', ringPath(ringRadius(lat)));
    
    
    grat.appendChild(ring);
  });
  meridianAngles.forEach(function (deg) {
    const a = deg * Math.PI / 180;
    const dx = Math.cos(a), dy = Math.sin(a);
    const s1 = reach(dx, dy), s2 = reach(-dx, -dy);
    const line = make('line');
    line.setAttribute('x1', poleX - s2 * dx);
    line.setAttribute('y1', poleY - s2 * dy);
    line.setAttribute('x2', poleX + s1 * dx);
    line.setAttribute('y2', poleY + s1 * dy);
    
    
    grat.appendChild(line);
  });

  const frame = make('rect');
  frame.setAttribute('x', axLeft);
  frame.setAttribute('y', axTop);
  frame.setAttribute('width', axRight - axLeft);
  frame.setAttribute('height', axBottom - axTop);
  frame.setAttribute('fill', 'none');
  frame.setAttribute('stroke', '#000');
  frame.setAttribute('stroke-width', 3.4);
  
  
  panel.appendChild(frame);
}

/* ---------- colour bars ---------- */
const barLeft = 130, barRight = 1924, barTop = 2452, barBottom = 2543, tipLeft = 40, tipRight = 2015;
function drawColorbar(panelId, ticks, domain, stops, gradientId, label) {
  const panel = document.getElementById(panelId);
  const bar = make('g');
  
  
  panel.appendChild(bar);
  const mid = (barTop + barBottom) / 2;
  const xOf = function (v) { return barLeft + (v - domain[0]) / (domain[1] - domain[0]) * (barRight - barLeft); };

  const low = make('polygon');
  low.setAttribute('points', barLeft + ',' + barTop + ' ' + barLeft + ',' + barBottom + ' ' + tipLeft + ',' + mid);
  low.setAttribute('fill', stops[0]);
  
  
  bar.appendChild(low);

  const high = make('polygon');
  high.setAttribute('points', barRight + ',' + barTop + ' ' + barRight + ',' + barBottom + ' ' + tipRight + ',' + mid);
  high.setAttribute('fill', stops[stops.length - 1]);
  
  
  bar.appendChild(high);

  const body = make('rect');
  body.setAttribute('x', barLeft);
  body.setAttribute('y', barTop);
  body.setAttribute('width', barRight - barLeft);
  body.setAttribute('height', barBottom - barTop);
  body.setAttribute('fill', 'url(#' + gradientId + ')');
  
  
  bar.appendChild(body);

  const edge = make('polygon');
  edge.setAttribute('points', tipLeft + ',' + mid + ' ' + barLeft + ',' + barTop + ' ' + barRight + ',' + barTop + ' ' + tipRight + ',' + mid + ' ' + barRight + ',' + barBottom + ' ' + barLeft + ',' + barBottom);
  edge.setAttribute('fill', 'none');
  edge.setAttribute('stroke', '#000');
  edge.setAttribute('stroke-width', 3.4);
  
  
  bar.appendChild(edge);

  ticks.forEach(function (v) {
    const tick = make('line');
    tick.setAttribute('x1', xOf(v));
    tick.setAttribute('x2', xOf(v));
    tick.setAttribute('y1', barBottom);
    tick.setAttribute('y2', barBottom + 19);
    tick.setAttribute('stroke', '#000');
    tick.setAttribute('stroke-width', 3.4);
    
    
    bar.appendChild(tick);

    const txt = make('text');
    txt.setAttribute('x', xOf(v));
    txt.setAttribute('y', 2624);
    txt.setAttribute('font-size', 56);
    txt.setAttribute('text-anchor', 'middle');
    
    
    txt.textContent = v.toFixed(1).replace('-', '\u2212');
    bar.appendChild(txt);
  });

  const title = make('text');
  title.setAttribute('x', (barLeft + barRight) / 2);
  title.setAttribute('y', 2700);
  title.setAttribute('font-size', 56);
  title.setAttribute('text-anchor', 'middle');
  
  
  title.textContent = label;
  bar.appendChild(title);
}

drawPanel('panel-a', thickness201819, iceDomain, viridisStops);
drawPanel('panel-b', thickness201920, iceDomain, viridisStops);
drawPanel('panel-c', griddifference, diffDomain, coolwarmStops);
drawColorbar('panel-a', iceTicks, iceDomain, viridisStops, 'viridis-gradient', 'ice_thickness');
drawColorbar('panel-b', iceTicks, iceDomain, viridisStops, 'viridis-gradient', 'ice_thickness');
drawColorbar('panel-c', diffTicks, diffDomain, coolwarmStops, 'coolwarm-gradient', 'gridcell difference');
</script>
</body>
</html>
